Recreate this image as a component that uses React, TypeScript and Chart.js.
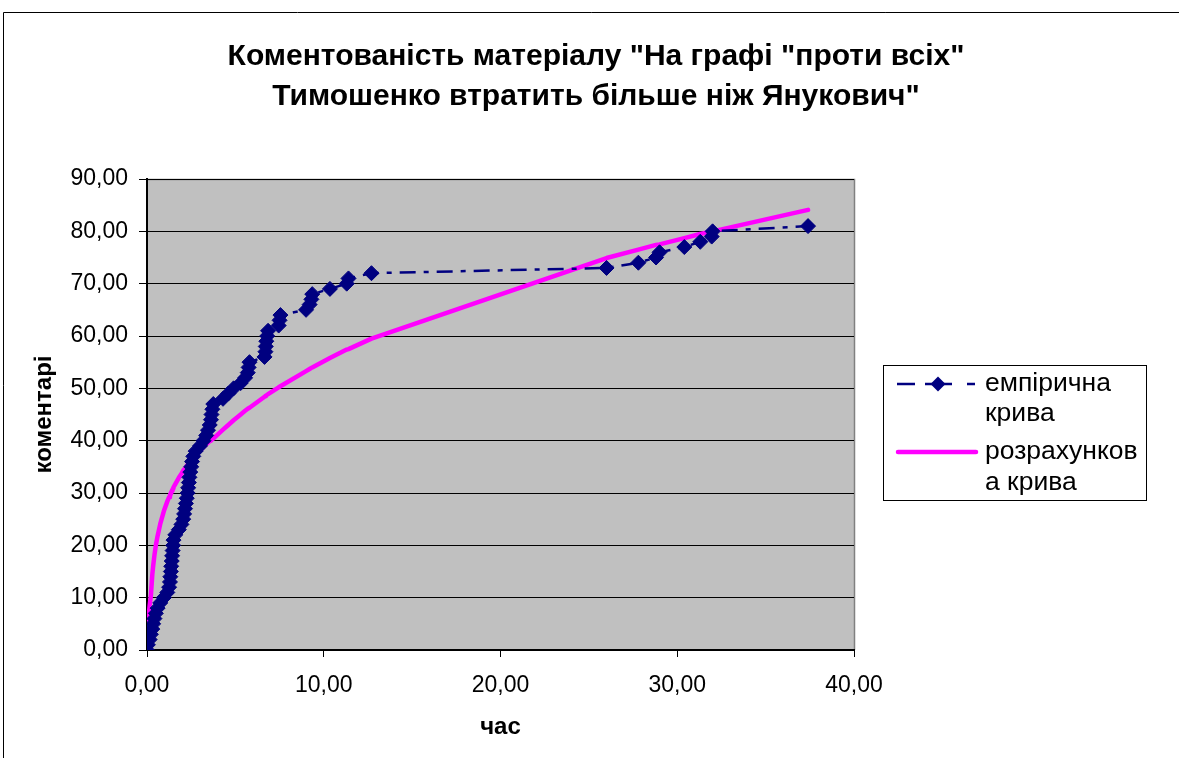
import React, { useEffect, useRef } from 'react';
import { Chart, registerables } from 'chart.js';

Chart.register(...registerables);

const titleLines = [
  'Коментованість матеріалу "На графі "проти всіх"',
  'Тимошенко втратить більше ніж Янукович"',
];
const xAxisTitle = 'час';
const yAxisTitle = 'коментарі';
const seriesNames = ['емпірична крива', 'розрахункова крива'];
const legendLines = [
  ['емпірична', 'крива'],
  ['розрахунков', 'а крива'],
];

// time (x) of each comment
const timeValues = [
  0.0, 0.05, 0.15, 0.22, 0.3, 0.35, 0.42, 0.5, 0.6, 0.75,
  0.95, 1.15, 1.25, 1.3, 1.32, 1.35, 1.37, 1.4, 1.42, 1.45,
  1.48, 1.5, 1.6, 1.8, 1.95, 2.05, 2.1, 2.15, 2.2, 2.25,
  2.3, 2.33, 2.37, 2.4, 2.45, 2.5, 2.55, 2.62, 2.75, 3.0,
  3.2, 3.35, 3.45, 3.55, 3.62, 3.65, 3.7, 3.75, 4.3, 4.6,
  4.9, 5.3, 5.55, 5.7, 5.75, 5.8, 6.65, 6.7, 6.72, 6.75,
  6.8, 6.85, 7.45, 7.5, 7.55, 9.0, 9.2, 9.3, 9.35, 10.35,
  11.3, 11.4, 12.7, 26.0, 27.8, 28.8, 29.0, 30.4, 31.3, 31.95,
  32.0, 37.4,
];

// empirical number of comments
const empiricalValues = [
  0, 1, 2, 3, 4, 5, 6, 7, 8, 9,
  10, 11, 12, 13, 14, 15, 16, 17, 18, 19,
  20, 21, 22, 23, 24, 25, 26, 27, 28, 29,
  30, 31, 32, 33, 34, 35, 36, 37, 38, 39,
  40, 41, 42, 43, 44, 45, 46, 47, 48, 49,
  50, 51, 52, 53, 54, 55, 56, 57, 58, 59,
  60, 61, 62, 63, 64, 65, 66, 67, 68, 69,
  70, 71, 72, 73, 74, 75, 76, 77, 78, 79,
  80, 81,
];

// calculated curve read at the same times
const calculatedValues = [
  0.0, 5.0, 8.5, 10.4, 14.4, 16.1, 18.1, 20.0, 21.8, 24.1,
  26.5, 28.4, 29.2, 29.6, 29.8, 30.0, 30.2, 30.4, 30.5, 30.7,
  30.9, 31.1, 31.7, 32.9, 33.7, 34.3, 34.5, 34.7, 35.0, 35.2,
  35.4, 35.6, 35.7, 35.9, 36.1, 36.3, 36.5, 36.8, 37.3, 38.1,
  38.8, 39.3, 39.6, 39.9, 40.0, 40.1, 40.3, 40.4, 42.1, 43.0,
  43.9, 45.0, 45.7, 46.1, 46.2, 46.3, 48.4, 48.5, 48.6, 48.6,
  48.8, 48.9, 50.2, 50.3, 50.4, 53.3, 53.7, 53.9, 54.0, 55.8,
  57.4, 57.5, 59.5, 74.9, 76.5, 77.4, 77.5, 78.7, 79.5, 80.0,
  80.0, 84.1,
];

const FONT = "'Liberation Sans', Arial, sans-serif";
const NAVY = '#000080';
const MAGENTA = '#FF00FF';
const EMP_DASH = [16, 8, 5, 8];

const fmt = (v: number) => v.toFixed(2).replace('.', ',');

const framePlugin = {
  id: 'frame',
  beforeDraw(chart: any) {
    const { ctx, chartArea, width, height } = chart;
    ctx.save();
    ctx.fillStyle = '#ffffff';
    ctx.fillRect(0, 0, width, height);
    ctx.strokeStyle = '#000000';
    ctx.lineWidth = 1;
    ctx.beginPath();
    ctx.moveTo(3.5, height);
    ctx.lineTo(3.5, 12.5);
    ctx.lineTo(width, 12.5);
    ctx.stroke();
    ctx.fillStyle = '#C0C0C0';
    ctx.fillRect(chartArea.left, chartArea.top, chartArea.right - chartArea.left, chartArea.bottom - chartArea.top);
    ctx.strokeStyle = '#808080';
    ctx.lineWidth = 1.5;
    ctx.beginPath();
    ctx.moveTo(chartArea.left, chartArea.top + 0.5);
    ctx.lineTo(chartArea.right + 0.5, chartArea.top + 0.5);
    ctx.lineTo(chartArea.right + 0.5, chartArea.bottom);
    ctx.stroke();

    // chart title
    ctx.fillStyle = '#000000';
    ctx.font = `bold 30px ${FONT}`;
    ctx.textAlign = 'center';
    ctx.textBaseline = 'middle';
    ctx.fillText(titleLines[0], 596, 57);
    ctx.fillText(titleLines[1], 596, 97);
    ctx.restore();
  },
};

const legendPlugin = {
  id: 'customLegend',
  afterDraw(chart: any) {
    const { ctx } = chart;
    const bx = 883.5, by = 365.5, bw = 263, bh = 135;
    ctx.save();
    ctx.fillStyle = '#ffffff';
    ctx.fillRect(bx, by, bw, bh);
    ctx.strokeStyle = '#000000';
    ctx.lineWidth = 1;
    ctx.strokeRect(bx, by, bw, bh);

    // item 1 sample: dash-dot line with diamond
    const y1 = 384;
    ctx.strokeStyle = NAVY;
    ctx.lineWidth = 2.5;
    ctx.beginPath();
    ctx.moveTo(897, y1);
    ctx.lineTo(915, y1);
    ctx.moveTo(925, y1);
    ctx.lineTo(952, y1);
    ctx.moveTo(967, y1);
    ctx.lineTo(975, y1);
    ctx.stroke();
    ctx.fillStyle = NAVY;
    ctx.beginPath();
    const cx = 938, r = 7.5;
    ctx.moveTo(cx, y1 - r);
    ctx.lineTo(cx + r, y1);
    ctx.lineTo(cx, y1 + r);
    ctx.lineTo(cx - r, y1);
    ctx.closePath();
    ctx.fill();

    // item 2 sample
    const y2 = 452;
    ctx.strokeStyle = MAGENTA;
    ctx.lineWidth = 4.5;
    ctx.lineCap = 'round';
    ctx.beginPath();
    ctx.moveTo(898, y2);
    ctx.lineTo(976, y2);
    ctx.stroke();

    ctx.fillStyle = '#000000';
    ctx.font = `26.5px ${FONT}`;
    ctx.textBaseline = 'middle';
    ctx.textAlign = 'left';
    ctx.fillText(legendLines[0][0], 985, y1);
    ctx.fillText(legendLines[0][1], 985, 414);
    ctx.fillText(legendLines[1][0], 985, y2);
    ctx.fillText(legendLines[1][1], 985, 483);
    ctx.restore();
  },
};

export default function App() {
  const canvasRef = useRef<HTMLCanvasElement | null>(null);

  useEffect(() => {
    if (!canvasRef.current) return;
    const empirical = timeValues.map((t, i) => ({ x: t, y: empiricalValues[i] }));
    const calculated = timeValues.map((t, i) => ({ x: t, y: calculatedValues[i] }));

    const chart = new Chart(canvasRef.current, {
      type: 'scatter',
      data: {
        datasets: [
          {
            label: seriesNames[0],
            data: empirical,
            showLine: true,
            borderColor: NAVY,
            backgroundColor: NAVY,
            borderWidth: 2.5,
            borderDash: EMP_DASH,
            pointStyle: 'rectRot',
            pointRadius: 7.5,
            pointBorderWidth: 1,
            pointBackgroundColor: NAVY,
            pointBorderColor: NAVY,
          },
          {
            label: seriesNames[1],
            data: calculated,
            showLine: true,
            borderColor: MAGENTA,
            backgroundColor: MAGENTA,
            borderWidth: 4.5,
            pointRadius: 0,
            borderCapStyle: 'round',
            borderJoinStyle: 'round',
          },
        ],
      },
      options: {
        animation: false,
        responsive: false,
        maintainAspectRatio: false,
        layout: { padding: { left: 12, right: 325, top: 179, bottom: 0 } },
        plugins: {
          legend: { display: false },
          tooltip: { enabled: false },
          title: { display: false },
        },
        scales: {
          x: {
            type: 'linear',
            min: 0,
            max: 40,
            afterFit: (scale: any) => {
              scale.height = 108;
            },
            ticks: {
              stepSize: 10,
              padding: 15,
              color: '#000000',
              font: { family: FONT, size: 23 },
              callback: (v: any) => fmt(Number(v)),
              maxRotation: 0,
            },
            grid: {
              drawOnChartArea: false,
              drawTicks: true,
              tickLength: 7,
              color: '#000000',
              lineWidth: 1,
            },
            border: { display: true, color: '#000000', width: 2 },
            title: {
              display: true,
              text: xAxisTitle,
              color: '#000000',
              font: { family: FONT, size: 24, weight: 'bold' },
              padding: { top: 0, bottom: 16 },
            },
          },
          y: {
            type: 'linear',
            min: 0,
            max: 90,
            afterFit: (scale: any) => {
              scale.width = 135;
            },
            ticks: {
              stepSize: 10,
              padding: 11,
              color: '#000000',
              font: { family: FONT, size: 23 },
              callback: (v: any) => fmt(Number(v)),
            },
            grid: {
              drawOnChartArea: true,
              drawTicks: true,
              tickLength: 8,
              color: '#000000',
              lineWidth: 1,
            },
            border: { display: true, color: '#000000', width: 2 },
            title: {
              display: true,
              text: yAxisTitle,
              color: '#000000',
              font: { family: FONT, size: 24, weight: 'bold' },
              padding: { top: 18, bottom: 0 },
            },
          },
        },
      },
      plugins: [framePlugin, legendPlugin],
    } as any);

    return () => chart.destroy();
  }, []);

  return (
    <div style={{ position: 'fixed', left: 0, top: 0, width: 1179, height: 758 }}>
      <canvas ref={canvasRef} width={1179} height={758} style={{ display: 'block', width: 1179, height: 758 }} />
    </div>
  );
}
